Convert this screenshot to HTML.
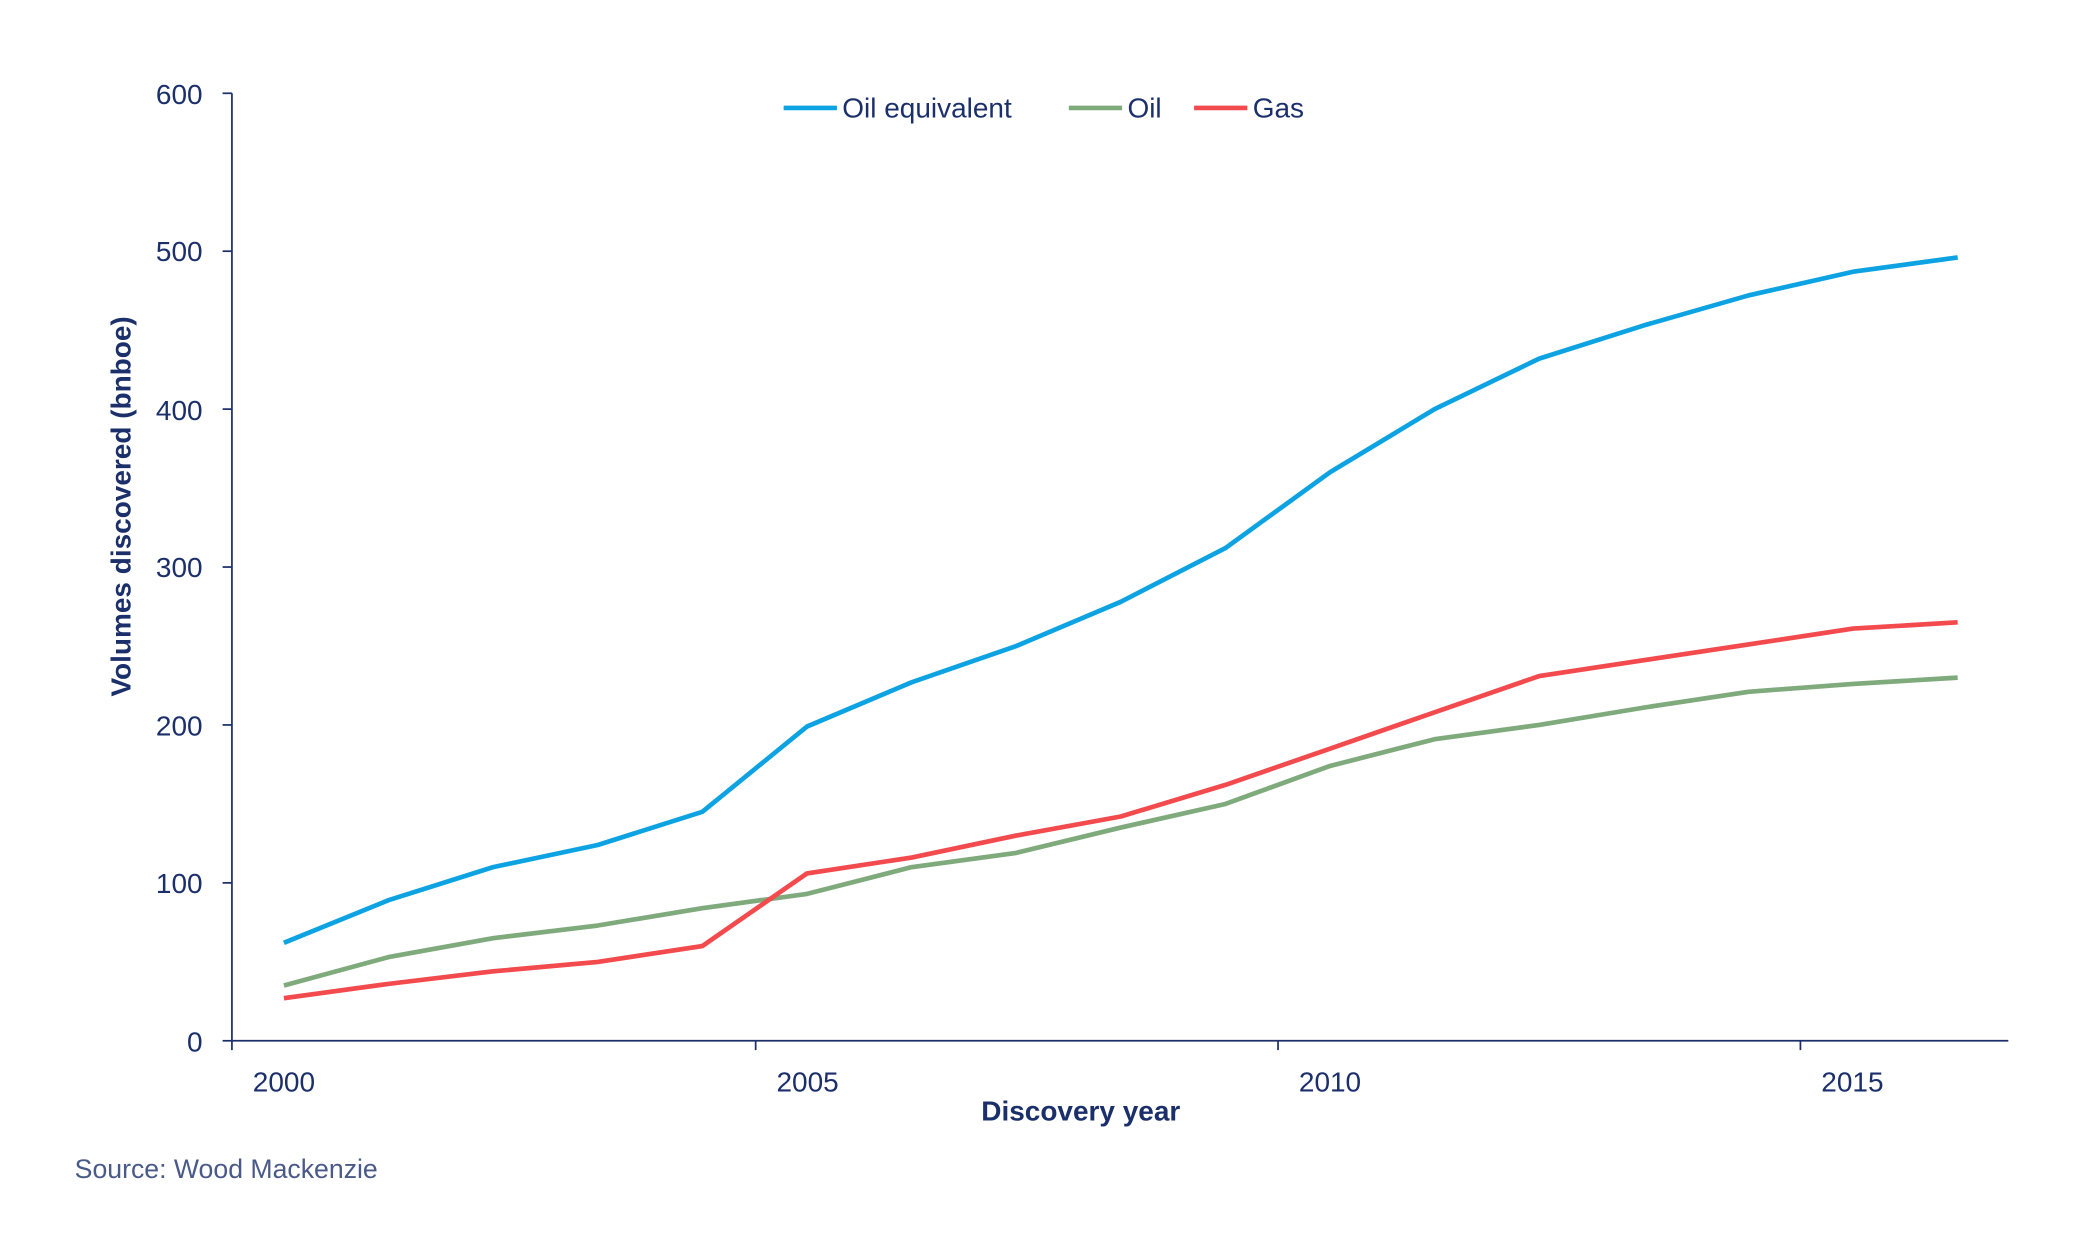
<!DOCTYPE html>
<html><head><meta charset="utf-8"><style>html,body{margin:0;padding:0;background:#fff}svg{display:block}</style></head>
<body>
<svg width="2083" height="1250" viewBox="0 0 1563 938" xmlns="http://www.w3.org/2000/svg" font-family="Liberation Sans, sans-serif">
<rect width="1563" height="938" fill="#fff"/>
<g stroke="#1b2f6b" stroke-width="1.3" fill="none">
<line x1="174" y1="70" x2="174" y2="781"/>
<line x1="174" y1="781" x2="1507" y2="781"/>
<line x1="167" y1="70" x2="174" y2="70"/>
<line x1="167" y1="188.5" x2="174" y2="188.5"/>
<line x1="167" y1="307" x2="174" y2="307"/>
<line x1="167" y1="425.5" x2="174" y2="425.5"/>
<line x1="167" y1="544" x2="174" y2="544"/>
<line x1="167" y1="662.5" x2="174" y2="662.5"/>
<line x1="167" y1="781" x2="174" y2="781"/>
<line x1="174" y1="781" x2="174" y2="788"/>
<line x1="567" y1="781" x2="567" y2="788"/>
<line x1="959" y1="781" x2="959" y2="788"/>
<line x1="1351" y1="781" x2="1351" y2="788"/>
</g>
<g fill="#1b2f6b" font-size="21" text-anchor="end">
<text x="152" y="78">600</text>
<text x="152" y="196">500</text>
<text x="152" y="315">400</text>
<text x="152" y="433">300</text>
<text x="152" y="552">200</text>
<text x="152" y="670">100</text>
<text x="152" y="789">0</text>
</g>
<g fill="#1b2f6b" font-size="21" text-anchor="middle">
<text x="213" y="819">2000</text>
<text x="606" y="819">2005</text>
<text x="998" y="819">2010</text>
<text x="1390" y="819">2015</text>
<text x="811" y="841" font-weight="bold">Discovery year</text>
<text transform="translate(98,380) rotate(-90)" font-weight="bold">Volumes discovered (bnboe)</text>
</g>
<text x="56" y="884" font-size="20" fill="#4a5a88">Source: Wood Mackenzie</text>
<g stroke-width="3.5" fill="none" stroke-linejoin="round">
<polyline stroke="#7fab7c" points="213,739.5 291.5,718.2 370,704 448.5,694.5 527,681.5 605.5,670.8 684,650.7 762.5,640 841,621 919.5,603.3 998,574.8 1076.5,554.7 1155,544 1233.5,531 1312,519.1 1390.5,513.2 1469,508.5"/>
<polyline stroke="#f24a4d" points="213,749 291.5,738.3 370,728.9 448.5,721.8 527,709.9 605.5,655.4 684,643.5 762.5,627 841,612.7 919.5,589 998,561.8 1076.5,534.5 1155,507.3 1233.5,495.4 1312,483.6 1390.5,471.7 1469,467"/>
<polyline stroke="#0da3e2" points="213,707.5 291.5,675.5 370,650.7 448.5,634.1 527,609.2 605.5,545.2 684,512 762.5,484.8 841,451.6 919.5,411.3 998,354.4 1076.5,307 1155,269.1 1233.5,244.2 1312,221.7 1390.5,203.9 1469,193.2"/>
</g>
<g stroke-width="3.5">
<line x1="588" y1="81" x2="628" y2="81" stroke="#0da3e2"/>
<line x1="802" y1="81" x2="842" y2="81" stroke="#7fab7c"/>
<line x1="896" y1="81" x2="936" y2="81" stroke="#f24a4d"/>
</g>
<g fill="#1b2f6b" font-size="21">
<text x="632" y="88">Oil equivalent</text>
<text x="846" y="88">Oil</text>
<text x="940" y="88">Gas</text>
</g>
</svg>
</body></html>
